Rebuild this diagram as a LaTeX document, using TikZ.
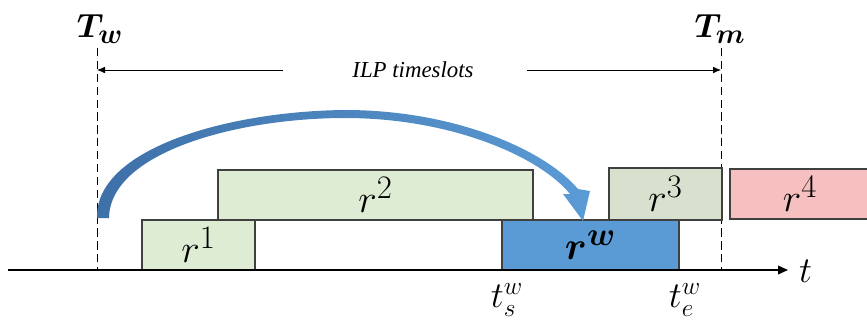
\documentclass[tikz,border=0pt]{standalone}
\usepackage{graphicx}
\usepackage{bm}
\usepackage{fontspec}
\newfontfamily\ilpfont{Liberation Serif}
\usetikzlibrary{arrows.meta}
\definecolor{gc}{RGB}{222,236,212}
\definecolor{hc}{RGB}{215,225,205}
\definecolor{pc}{RGB}{246,192,192}
\definecolor{wc}{RGB}{91,155,213}
\definecolor{ac}{RGB}{62,112,168}
\newcommand{\lbl}[2]{\scalebox{#1}{$#2$}}
\tikzset{slot/.style={draw=black!75,line width=1.1pt,minimum height=1.5cm,inner sep=0pt,font=\Huge},
 g/.style={slot,fill=gc},h/.style={slot,fill=hc},p/.style={slot,fill=pc},w/.style={slot,fill=wc},
 bound/.style={dash pattern=on 7pt off 4pt,line width=.8pt},
 tl/.style={-{Latex[length=2.4mm,width=2mm]},line width=.7pt},
 ax/.style={-{Triangle[length=3mm,width=2.6mm]},line width=1.3pt},
 big/.style={font=\Huge},
 mid/.style={font=\huge}}

\begin{document}
\begin{tikzpicture}[x=.03cm,y=-.03cm]
\useasboundingbox (0,0) rectangle (867,322);
% boundaries of the window
\coordinate (tw top) at (97,48);\coordinate (tw bot) at (97,270);
\coordinate (tm top) at (721,48);\coordinate (tm bot) at (721,270);
\draw[bound] (tw top)--(tw bot);\draw[bound] (tm top)--(tm bot);
\node[big] (Tw) at (100,29) {\lbl{1.15}{\bm{T_w}}};\node[big] (Tm) at (720,29) {\lbl{1.15}{\bm{T_m}}};
% timeslots
\node[font=\ilpfont\itshape\fontsize{19.5}{23}\selectfont] (ilp) at (413,70) {ILP timeslots};
\coordinate (ilpa) at (283,70);\coordinate (ilpb) at (527,70);
\draw[tl] (ilpa)--(tw top |- ilpa);\draw[tl] (ilpb)--(tm top |- ilpb);
% requests
\node[g,minimum width=9.45cm] (r2) at (375.5,195) {\lbl{1.35}{r^2}};
\node[g,minimum width=3.39cm] (r1) at (198.5,245) {\lbl{1.35}{r^1}};
\node[w,minimum width=5.31cm] (rw) at (590.5,245) {\lbl{1.35}{\bm{r^w}}};
\node[h,minimum width=3.39cm,minimum height=1.56cm] (r3) at (665.5,194) {\lbl{1.35}{r^3}};
\node[p,minimum width=4.2cm] (r4) at (800,194) {\lbl{1.35}{r^4}};
% time axis
\coordinate (ax0) at (8,270);\coordinate (ax1) at (788,270);
\draw[ax] (ax0)--(ax1);
\node[big,anchor=west] (t) at (795,271) {\lbl{1.25}{t}};
\node[mid] (ts) at (507,300) {\lbl{1.5}{t_s^w}};\node[mid] (te) at (685,300) {\lbl{1.5}{t_e^w}};
% move of r^w
\shade[left color=ac,right color=wc] (97,218) .. controls (95,148) and (230,111) .. (345,110)
 .. controls (455,110) and (545,150) .. (578,189) -- (590,191) -- (583,221) -- (563,194) -- (570,194)
 .. controls (540,157) and (452,118) .. (345,118) .. controls (238,118) and (110,152) .. (109,218) -- cycle;
\end{tikzpicture}
\end{document}
